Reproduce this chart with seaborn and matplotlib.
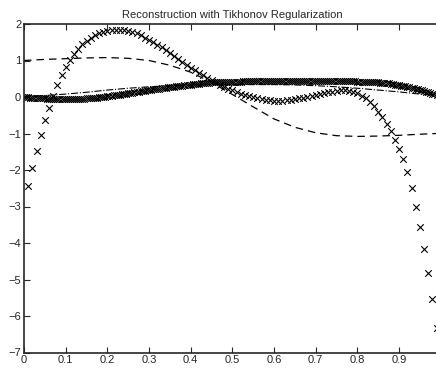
import numpy as np
import pandas as pd
import seaborn as sns
import matplotlib.pyplot as plt

# sampled reconstruction (coarse grid, step 0.01)
x_coarse = np.arange(1, 100) / 100
y_coarse = [
    -2.45, -1.95, -1.47, -1.03, -0.64, -0.29, 0.03, 0.33, 0.60, 0.83,
    1.02, 1.18, 1.32, 1.44, 1.54, 1.62, 1.69, 1.74, 1.78, 1.81,
    1.83, 1.84, 1.84, 1.83, 1.81, 1.78, 1.74, 1.69, 1.63, 1.57,
    1.50, 1.43, 1.36, 1.28, 1.20, 1.12, 1.04, 0.96, 0.88, 0.80,
    0.73, 0.66, 0.59, 0.52, 0.46, 0.40, 0.34, 0.28, 0.23, 0.18,
    0.13, 0.09, 0.05, 0.02, -0.01, -0.04, -0.06, -0.08, -0.09, -0.10,
    -0.10, -0.10, -0.09, -0.08, -0.06, -0.04, -0.02, 0.00, 0.03, 0.05,
    0.08, 0.10, 0.13, 0.15, 0.17, 0.18, 0.18, 0.17, 0.14, 0.10,
    0.04, -0.04, -0.14, -0.26, -0.40, -0.56, -0.74, -0.94, -1.17, -1.42,
    -1.70, -2.05, -2.50, -3.00, -3.55, -4.16, -4.81, -5.54, -6.34,
]

# regularized reconstruction (fine grid, step 0.005)
x_fine = np.arange(199) * 0.005
y_fine = [
    0.00, -0.005, -0.01, -0.015, -0.02, -0.025, -0.03, -0.033, -0.036, -0.038,
    -0.04, -0.043, -0.046, -0.049, -0.052, -0.055, -0.057, -0.059, -0.06, -0.06,
    -0.06, -0.06, -0.059, -0.058, -0.056, -0.054, -0.052, -0.049, -0.046, -0.043,
    -0.04, -0.036, -0.031, -0.026, -0.021, -0.016, -0.01, -0.004, 0.002, 0.01,
    0.02, 0.028, 0.036, 0.044, 0.052, 0.06, 0.068, 0.076, 0.084, 0.092,
    0.10, 0.109, 0.118, 0.127, 0.136, 0.145, 0.154, 0.163, 0.172, 0.181,
    0.19, 0.198, 0.206, 0.214, 0.222, 0.23, 0.238, 0.246, 0.254, 0.262,
    0.27, 0.277, 0.284, 0.291, 0.298, 0.305, 0.312, 0.319, 0.326, 0.333,
    0.34, 0.346, 0.352, 0.358, 0.364, 0.37, 0.376, 0.382, 0.388, 0.394,
    0.40, 0.403, 0.406, 0.409, 0.412, 0.414, 0.416, 0.417, 0.418, 0.419,
    0.42, 0.421, 0.422, 0.423, 0.424, 0.425, 0.426, 0.427, 0.428, 0.429,
    0.43, 0.43, 0.43, 0.43, 0.43, 0.43, 0.43, 0.43, 0.43, 0.43,
    0.43, 0.43, 0.43, 0.43, 0.43, 0.43, 0.43, 0.43, 0.43, 0.43,
    0.43, 0.43, 0.43, 0.43, 0.43, 0.43, 0.43, 0.43, 0.43, 0.43,
    0.43, 0.43, 0.43, 0.43, 0.43, 0.43, 0.43, 0.43, 0.43, 0.43,
    0.43, 0.43, 0.43, 0.43, 0.43, 0.429, 0.428, 0.427, 0.426, 0.425,
    0.424, 0.422, 0.42, 0.418, 0.416, 0.413, 0.41, 0.407, 0.404, 0.402,
    0.40, 0.394, 0.388, 0.382, 0.376, 0.37, 0.36, 0.35, 0.34, 0.33,
    0.32, 0.31, 0.30, 0.29, 0.28, 0.27, 0.256, 0.242, 0.228, 0.214,
    0.20, 0.182, 0.164, 0.146, 0.128, 0.11, 0.092, 0.074, 0.05,
]

# true function (dashed) and second curve (dash-dot), step 0.05
x_line = [0, 0.05, 0.10, 0.15, 0.20, 0.25, 0.30, 0.35, 0.40, 0.45, 0.50,
          0.55, 0.60, 0.65, 0.70, 0.75, 0.80, 0.85, 0.90, 0.95, 0.99]
y_dashed = [1.00, 1.03, 1.05, 1.07, 1.08, 1.06, 1.00, 0.87, 0.68, 0.40, 0.07,
            -0.27, -0.60, -0.83, -0.98, -1.06, -1.08, -1.07, -1.05, -1.02, -1.00]
y_dashdot = [0.00, 0.04, 0.08, 0.13, 0.19, 0.24, 0.28, 0.31, 0.33, 0.34, 0.34,
             0.34, 0.34, 0.33, 0.31, 0.28, 0.24, 0.19, 0.14, 0.08, 0.04]

title = 'Reconstruction with Tikhonov Regularization'

sns.set_style('ticks')
plt.rcParams['font.family'] = ['Liberation Sans', 'DejaVu Sans']
plt.rcParams['xtick.direction'] = 'in'
plt.rcParams['ytick.direction'] = 'in'

fig = plt.figure(figsize=(4.36, 3.69), dpi=100)
ax = fig.add_axes([24 / 436, 16.5 / 369, 416.7 / 436, 328.5 / 369])

lines = pd.DataFrame({'x': x_line, 'dashed': y_dashed, 'dashdot': y_dashdot})
sns.lineplot(data=lines, x='x', y='dashed', ax=ax, color='k', lw=0.9,
             linestyle=(0, (6, 4)))
sns.lineplot(data=lines, x='x', y='dashdot', ax=ax, color='k', lw=0.8,
             linestyle='-.')
sns.scatterplot(x=x_fine, y=y_fine, ax=ax, marker='x', color='k', s=22,
                linewidth=0.8)
sns.scatterplot(x=x_coarse, y=y_coarse, ax=ax, marker='x', color='k', s=22,
                linewidth=0.8)

ax.set_xlim(0, 1)
ax.set_ylim(-7, 2)
ax.set_xticks(np.arange(0, 1.0, 0.1))
ax.set_xticklabels(['0', '0.1', '0.2', '0.3', '0.4', '0.5', '0.6', '0.7', '0.8', '0.9'])
ax.set_yticks(range(-7, 3))
ax.set_xlabel('')
ax.set_ylabel('')
ax.tick_params(labelsize=8, length=4, width=0.8, top=True, right=False, pad=2)
for s in ax.spines.values():
    s.set_linewidth(1.2)
ax.set_title(title, fontsize=8, pad=4)

fig.savefig('out.png', dpi=100)
